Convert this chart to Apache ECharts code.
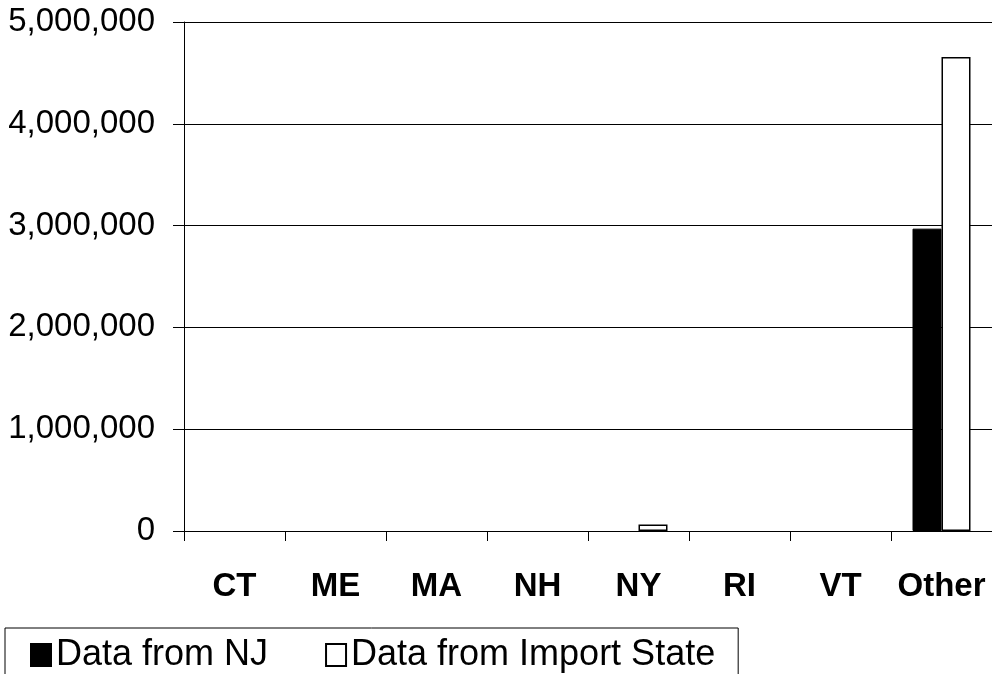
<!DOCTYPE html>
<html>
<head>
<meta charset="utf-8">
<script src="https://cdn.jsdelivr.net/npm/echarts@6/dist/echarts.min.js"></script>
<style>
html,body{margin:0;padding:0;background:#fff;}
#chart{width:992px;height:674px;}
</style>
</head>
<body>
<div id="chart"></div>
<script>
const categories = ["CT", "ME", "MA", "NH", "NY", "RI", "VT", "Other"];
const seriesNames = ["Data from NJ", "Data from Import State"];
const dataFromNJ = [0, 0, 0, 0, 0, 0, 0, 2970000];
const dataFromImportState = [0, 0, 0, 0, 64000, 0, 0, 4655000];
const yTicks = { min: 0, max: 5000000, interval: 1000000 };

const FONT = '"Liberation Sans", Arial, sans-serif';
// zero-valued bars are invisible in the reference: drop their border
const toItems = arr => arr.map(v => v === 0 ? { value: v, itemStyle: { borderWidth: 0 } } : v);

const chart = echarts.init(document.getElementById('chart'), null, { renderer: 'canvas' });
chart.setOption({
  animation: false,
  backgroundColor: '#ffffff',
  grid: { left: 184, right: 0, top: 22, bottom: 143, containLabel: false },
  legend: {
    left: 5, top: 628,
    data: seriesNames,
    icon: 'rect',
    itemWidth: 20, itemHeight: 22,
    itemGap: 57,
    padding: [9, 23, 40, 25],
    borderColor: '#000', borderWidth: 1,
    textStyle: { fontFamily: FONT, fontSize: 36, color: '#000' }
  },
  xAxis: {
    type: 'category',
    data: categories,
    axisLine: { lineStyle: { color: '#000', width: 1 } },
    axisTick: { show: true, alignWithLabel: false, interval: 0, length: 10, lineStyle: { color: '#000' } },
    axisLabel: { interval: 0, fontFamily: FONT, fontSize: 33, fontWeight: 'bold', color: '#000', margin: 39 },
    splitLine: { show: false }
  },
  yAxis: {
    type: 'value',
    min: yTicks.min, max: yTicks.max, interval: yTicks.interval,
    axisLine: { show: true, lineStyle: { color: '#000', width: 1 } },
    axisTick: { show: true, length: 11, lineStyle: { color: '#000' } },
    axisLabel: {
      fontFamily: FONT, fontSize: 33, color: '#000', margin: 29,
      formatter: v => v.toLocaleString('en-US')
    },
    splitLine: { show: true, lineStyle: { color: '#000', width: 1 } }
  },
  series: [
    {
      name: seriesNames[0], type: 'bar', data: toItems(dataFromNJ),
      barWidth: 29, barGap: '0%',
      itemStyle: { color: '#000', borderColor: '#000', borderWidth: 1 }
    },
    {
      name: seriesNames[1], type: 'bar', data: toItems(dataFromImportState),
      barWidth: 29, barGap: '0%',
      itemStyle: { color: '#fff', borderColor: '#000', borderWidth: 1.5 }
    }
  ]
});
</script>
</body>
</html>
